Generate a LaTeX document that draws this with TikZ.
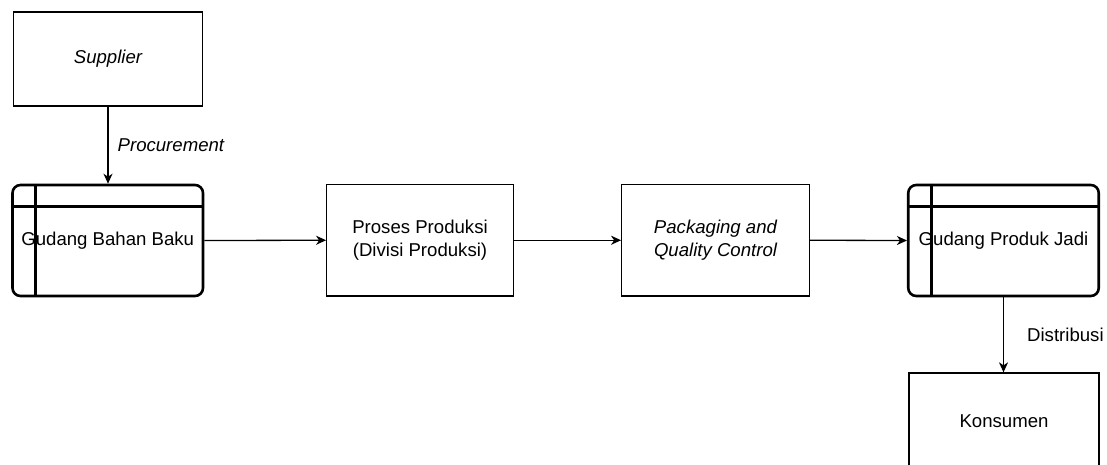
\documentclass[tikz,border=0pt]{standalone}
\usepackage{fontspec}
\setmainfont{Liberation Sans}
\usetikzlibrary{arrows.meta,calc}
\begin{document}
\begin{tikzpicture}[x=1pt,y=-1pt,
  font=\fontsize{18.6}{22.5}\selectfont,
  box/.style={draw=black, line width=1.3pt, align=center, inner sep=0pt},
  store/.style={draw=black, line width=2.6pt, rounded corners=8pt, align=center, inner sep=0pt,
                minimum width=190.5pt, minimum height=111pt},
  storeline/.style={draw=black, line width=2.6pt},
  flow/.style={draw=black, line width=1.3pt, -{Stealth[length=10pt,width=9pt,inset=3pt]}},
  lbl/.style={midway, anchor=west, inner sep=0pt}]
\useasboundingbox (0,0) rectangle (1107,464);
\clip (0,0) rectangle (1107,464);

% sources and processes
\node[box, minimum width=188.5pt, minimum height=94pt] (sup) at (108,59) {\itshape Supplier};
\node[box, minimum width=186.5pt, minimum height=111.5pt] (prod) at (420,240.25) {Proses Produksi\\(Divisi Produksi)};
\node[box, minimum width=187.5pt, minimum height=111.5pt] (pack) at (715.5,240.25) {\itshape Packaging and\\\itshape Quality Control};
\node[box, minimum width=190pt, minimum height=96pt] (kons) at (1004,421) {Konsumen};

% warehouses (data-store shape)
\node[store] (gbb) at (107.75,240.5) {Gudang Bahan Baku};
\node[store] (gpj) at (1003.5,240.5) {Gudang Produk Jadi};
\foreach \s in {gbb,gpj} {
  \draw[storeline] ($(\s.north west)+(0,23)$) -- ($(\s.north east)+(0,23)$);
  \draw[storeline] ($(\s.north west)+(24.5,0)$) -- ($(\s.south west)+(24.5,0)$);
}

% material flow
\draw[flow] (sup.south) -- node[lbl, xshift=9pt] {\itshape Procurement} (sup.south |- gbb.north);
\draw[flow] (gbb.east) -- (prod.west);
\draw[flow] (prod.east) -- (pack.west);
\draw[flow] (pack.east) -- (gpj.west);
\draw[flow] (gpj.south) -- node[lbl, xshift=23pt] {Distribusi} (gpj.south |- kons.north);
\end{tikzpicture}
\end{document}
